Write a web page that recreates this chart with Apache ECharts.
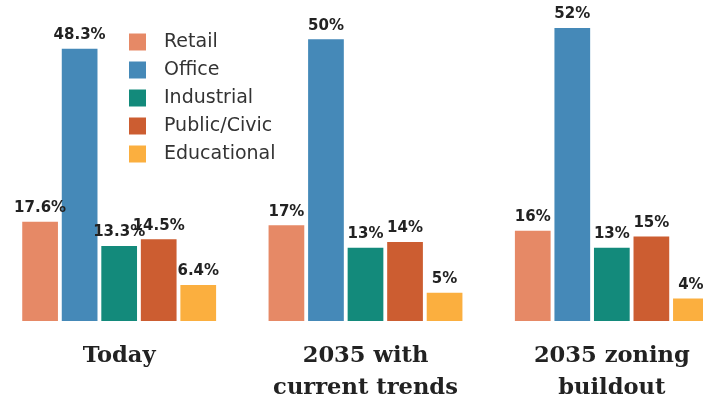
<!DOCTYPE html>
<html><head><meta charset="utf-8">
<script src="https://cdn.jsdelivr.net/npm/echarts@6/dist/echarts.min.js"></script>
<style>html,body{margin:0;padding:0;background:#fff}#c{width:703px;height:405px}</style>
</head><body><div id="c"></div>
<script>
const categories = ['Today', '2035 with\ncurrent trends', '2035 zoning\nbuildout'];
const seriesNames = ['Retail', 'Office', 'Industrial', 'Public/Civic', 'Educational'];
const retail = [17.6, 17, 16];
const office = [48.3, 50, 52];
const industrial = [13.3, 13, 13];
const publicCivic = [14.5, 14, 15];
const educational = [6.4, 5, 4];
const colors = ['#E68966', '#4589B8', '#138A7B', '#CC5D31', '#FBAF3F'];
const values = [retail, office, industrial, publicCivic, educational];

const chart = echarts.init(document.getElementById('c'));
chart.setOption({
  animation: false,
  color: colors,
  grid: { left: -4, width: 739, top: 11, bottom: 84, containLabel: false, outerBoundsMode: 'none' },
  legend: {
    orient: 'vertical', left: 129, top: 32, padding: 0, itemWidth: 17, itemHeight: 17, itemGap: 8,
    icon: 'rect',
    textStyle: { fontFamily: 'DejaVu Sans', fontSize: 19, color: '#333', lineHeight: 17, padding: [3, 0, 0, 13] },
    data: seriesNames
  },
  xAxis: {
    type: 'category', data: categories,
    axisLine: { show: false }, axisTick: { show: false },
    axisLabel: { margin: 19, fontFamily: 'DejaVu Serif', fontWeight: 'bold', fontSize: 22.6, lineHeight: 32, color: '#222', interval: 0 }
  },
  yAxis: { type: 'value', min: 0, max: 55, show: false, splitLine: { show: false } },
  series: seriesNames.map((n, i) => ({
    name: n, type: 'bar', data: values[i],
    barGap: '10.7%', barCategoryGap: '21.3%',
    label: { show: true, position: 'top', distance: 6, formatter: '{c}%', fontFamily: 'DejaVu Sans', fontWeight: 'bold', fontSize: 15, color: '#222' }
  }))
});
</script></body></html>
